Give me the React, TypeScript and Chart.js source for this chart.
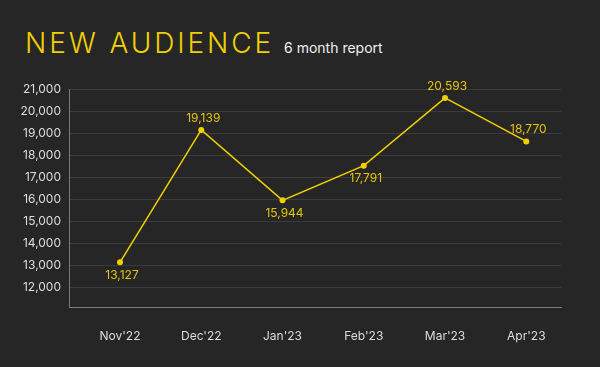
import React, { useEffect, useRef } from "react";
import { Chart, registerables } from "chart.js";

Chart.register(...registerables);

const categories = ["Nov'22", "Dec'22", "Jan'23", "Feb'23", "Mar'23", "Apr'23"];
const values = [13127, 19139, 15944, 17520, 20593, 18620];
const valueLabels = ["13,127", "19,139", "15,944", "17,791", "20,593", "18,770"];
const yMin = 11100;
const yMax = 21000;
const yStep = 1000;

const YELLOW = "#f2d000";
const LABEL_YELLOW = "#e3c40e";
const FONT = "Inter, 'Noto Sans', sans-serif";

const labelPlugin = {
  id: "pointLabels",
  afterDatasetsDraw(chart: any) {
    const meta = chart.getDatasetMeta(0);
    const ctx = chart.ctx;
    ctx.save();
    ctx.font = `12px ${FONT}`;
    ctx.fillStyle = LABEL_YELLOW;
    ctx.textAlign = "center";
    ctx.textBaseline = "middle";
    meta.data.forEach((pt: any, i: number) => {
      const next = values[i + 1];
      const above = next === undefined || values[i] >= next;
      const y = above ? pt.y - 12 : pt.y + 13;
      ctx.fillText(valueLabels[i], pt.x + 2, y);
    });
    ctx.restore();
  },
};

export default function App() {
  const ref = useRef<HTMLCanvasElement>(null);
  useEffect(() => {
    const chart = new Chart(ref.current!, {
      type: "line",
      data: {
        datasets: [
          {
            data: values.map((v, i) => ({ x: i, y: v })),
            borderColor: YELLOW,
            backgroundColor: YELLOW,
            borderWidth: 1.5,
            pointRadius: 3,
            pointBackgroundColor: YELLOW,
            pointBorderWidth: 0,
            tension: 0,
          },
        ],
      },
      options: {
        animation: false,
        responsive: false,
        maintainAspectRatio: false,
        layout: { padding: { left: 8, right: 39, top: 89, bottom: 0 } },
        plugins: { legend: { display: false }, tooltip: { enabled: false }, title: { display: false } },
        scales: {
          x: {
            type: "linear",
            min: -0.6276,
            max: 5.427,
            afterBuildTicks: (axis: any) => {
              axis.ticks = categories.map((_, i) => ({ value: i }));
            },
            afterFit: (s: any) => {
              s.height = 60;
            },
            ticks: {
              callback: (v: any) => categories[v] ?? "",
              color: "#dcdcdc",
              font: { family: FONT, size: 12 },
              padding: 22,
              autoSkip: false,
              maxRotation: 0,
            },
            grid: { display: false, drawTicks: false },
            border: { display: true, color: "#7a7a7a", width: 1 },
          },
          y: {
            min: yMin,
            max: yMax,
            afterBuildTicks: (axis: any) => {
              const ticks = [];
              for (let v = Math.ceil(yMin / yStep) * yStep; v <= yMax; v += yStep) ticks.push({ value: v });
              axis.ticks = ticks;
            },
            afterFit: (s: any) => {
              s.width = 61;
            },
            ticks: {
              stepSize: yStep,
              color: "#dcdcdc",
              font: { family: FONT, size: 12 },
              padding: 8,
            },
            grid: { color: "#3b3b3b", drawTicks: false, lineWidth: 1 },
            border: { display: true, color: "#7a7a7a", width: 1 },
          },
        },
      },
      plugins: [labelPlugin],
    });
    return () => chart.destroy();
  }, []);

  return (
    <div
      style={{
        position: "fixed",
        left: 0,
        top: 0,
        width: 600,
        height: 367,
        background: "#262626",
        overflow: "hidden",
      }}
    >
      <div
        style={{
          position: "absolute",
          left: 25,
          top: 28,
          whiteSpace: "nowrap",
          lineHeight: "30px",
          fontFamily: FONT,
        }}
      >
        <span style={{ color: YELLOW, fontSize: 28, fontWeight: 300, letterSpacing: 2.9 }}>NEW AUDIENCE</span>
        <span style={{ color: "#f0f0f0", fontSize: 14, marginLeft: 10 }}>6 month report</span>
      </div>
      <canvas ref={ref} width={600} height={367} style={{ position: "absolute", left: 0, top: 0 }} />
    </div>
  );
}
